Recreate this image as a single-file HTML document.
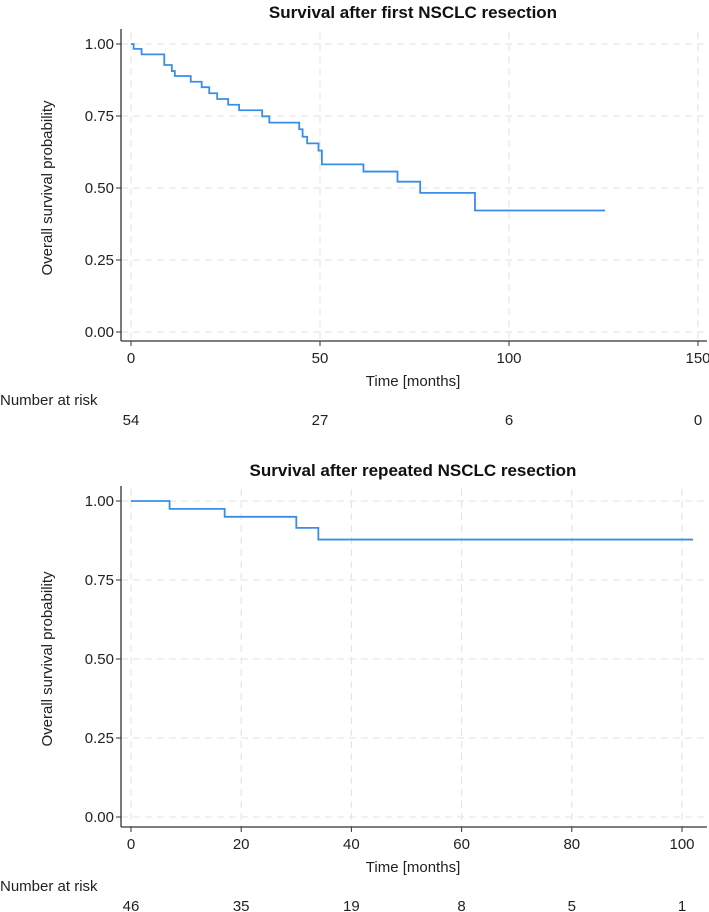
<!DOCTYPE html>
<html><head><meta charset="utf-8"><style>
body{margin:0;background:#fff}
svg{display:block;font-family:"Liberation Sans",Arial,sans-serif}
</style></head><body>
<svg id="s" width="709" height="912"></svg>
<script>
const topTimes=[0,0.7,2.8,8.8,10.8,11.6,15.8,18.7,20.7,22.8,25.7,28.6,34.7,36.6,44.5,45.4,46.6,49.6,50.5,61.5,70.5,76.5,91,125.4];
const topSurv=[1,0.983,0.964,0.927,0.906,0.889,0.869,0.85,0.829,0.809,0.789,0.77,0.749,0.727,0.704,0.678,0.655,0.63,0.582,0.557,0.522,0.483,0.422,0.422];
const topXTicks=[0,50,100,150];
const topRisk=[54,27,6,0];
const botTimes=[0,7,17,30,34,102];
const botSurv=[1,0.975,0.95,0.915,0.878,0.878];
const botXTicks=[0,20,40,60,80,100];
const botRisk=[46,35,19,8,5,1];
const yTicks=[0,0.25,0.5,0.75,1];

const NS="http://www.w3.org/2000/svg";
const svg=document.getElementById('s');
function mk(tag,attrs,parent,txt){const e=document.createElementNS(NS,tag);for(const k in attrs)e.setAttribute(k,attrs[k]);if(txt!==undefined)e.textContent=txt;(parent||svg).appendChild(e);return e;}

function panel(cfg){
  const g=mk('g',{});
  
  
  const xs=t=>cfg.x0+(t-cfg.xmin)/(cfg.xmax-cfg.xmin)*(cfg.x1-cfg.x0);
  const ys=v=>cfg.y0+(1-v)*(cfg.y1-cfg.y0);
  const t=mk('text',{x:413,y:cfg.titleY,'text-anchor':'middle','font-size':17,'font-weight':'bold',fill:'#111'},g,cfg.title);
  
  
  yTicks.forEach(v=>{const l=mk('line',{x1:cfg.axisX,x2:707,y1:ys(v),y2:ys(v),stroke:'#e6e6e6','stroke-width':1.2,'stroke-dasharray':'7,5'},g);
    });
  cfg.xticks.forEach(v=>{const l=mk('line',{x1:xs(v),x2:xs(v),y1:cfg.y0-12,y2:cfg.axisY,stroke:'#e6e6e6','stroke-width':1.2,'stroke-dasharray':'7,5'},g);
    });
  const ya=mk('line',{x1:cfg.axisX,x2:cfg.axisX,y1:cfg.y0-15,y2:cfg.axisY,stroke:'#333','stroke-width':1.3},g);
  
  const xa=mk('line',{x1:cfg.axisX,x2:707,y1:cfg.axisY,y2:cfg.axisY,stroke:'#333','stroke-width':1.3},g);
  
  yTicks.forEach(v=>{mk('line',{x1:cfg.axisX-5,x2:cfg.axisX,y1:ys(v),y2:ys(v),stroke:'#333'},g);
    const tl=mk('text',{x:cfg.axisX-7,y:ys(v)+5,'text-anchor':'end','font-size':15,fill:'#222'},g,v.toFixed(2));
    });
  cfg.xticks.forEach(v=>{mk('line',{x1:xs(v),x2:xs(v),y1:cfg.axisY,y2:cfg.axisY+5,stroke:'#333'},g);
    const tl=mk('text',{x:xs(v),y:cfg.axisY+22,'text-anchor':'middle','font-size':15,fill:'#222'},g,String(v));
    });
  const yt=mk('text',{x:0,y:0,transform:`translate(52,${(cfg.y0+cfg.y1)/2}) rotate(-90)`,'text-anchor':'middle','font-size':15,fill:'#222'},g,'Overall survival probability');
  
  const xt=mk('text',{x:413,y:cfg.axisY+45,'text-anchor':'middle','font-size':15,fill:'#222'},g,'Time [months]');
  
  const nr=mk('text',{x:0,y:cfg.axisY+64,'font-size':15,fill:'#222'},g,'Number at risk');
  
  cfg.risk.forEach((n,i)=>{const r=mk('text',{x:xs(cfg.xticks[i]),y:cfg.axisY+84,'text-anchor':'middle','font-size':15,fill:'#222'},g,String(n));
    });
  let d=`M${xs(cfg.times[0])},${ys(cfg.surv[0])}`;
  for(let i=1;i<cfg.times.length;i++){d+=` H${xs(cfg.times[i])} V${ys(cfg.surv[i])}`;}
  const p=mk('path',{d:d,fill:'none',stroke:'#3a8ee6','stroke-width':1.8},g);
  
}
panel({name:'first-resection-chart',title:'Survival after first NSCLC resection',titleY:18,times:topTimes,surv:topSurv,xticks:topXTicks,risk:topRisk,
  xmin:0,xmax:150,x0:131,x1:698,y0:44,y1:332,axisX:121,axisY:341});
panel({name:'repeated-resection-chart',title:'Survival after repeated NSCLC resection',titleY:476,times:botTimes,surv:botSurv,xticks:botXTicks,risk:botRisk,
  xmin:0,xmax:100,x0:131,x1:682,y0:501,y1:817,axisX:121,axisY:827});
</script>
</body></html>
